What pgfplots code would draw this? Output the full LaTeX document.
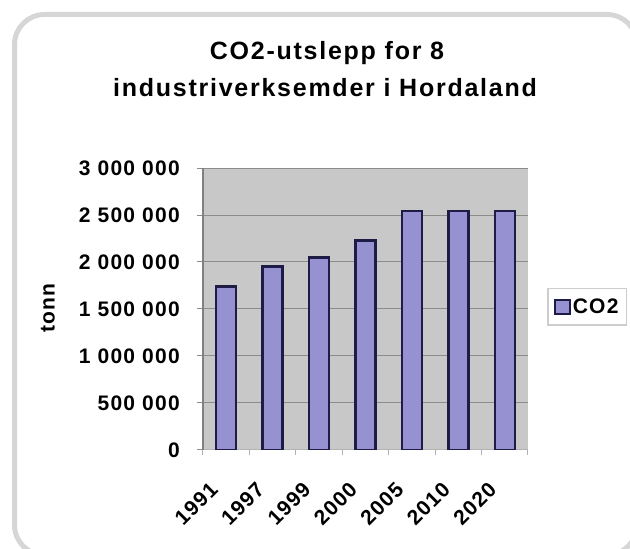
\documentclass[border=0pt]{standalone}
\usepackage{fontspec}
\setmainfont{Liberation Sans}
\newfontfamily\chartfont[LetterSpace=6]{Liberation Sans}
\newfontfamily\titlefont[LetterSpace=7]{Liberation Sans}
\usepackage{pgfplots}
\pgfplotsset{compat=1.18}

\definecolor{barfill}{RGB}{150,146,210}
\definecolor{barline}{RGB}{30,28,70}
\definecolor{plotbg}{RGB}{200,200,200}
\definecolor{gridc}{RGB}{140,140,140}
\definecolor{framec}{RGB}{214,214,214}
\definecolor{legline}{RGB}{205,205,205}

\newcommand{\tickfont}{\chartfont\bfseries\fontsize{21}{24}\selectfont}

\pgfplotstableread{
x  year  co2
0  1991  1740000
1  1997  1950000
2  1999  2050000
3  2000  2230000
4  2005  2540000
5  2010  2540000
6  2020  2540000
}\emissions

\begin{document}
\begin{tikzpicture}
  % rounded frame around the chart
  \draw[framec, line width=5pt, rounded corners=30pt]
    (14.5pt,-6pt) rectangle (637pt,534.5pt);

  % two-line title
  \node[anchor=base, font=\titlefont\bfseries\fontsize{25}{30}\selectfont]
    at (327pt,489pt) {CO2-utslepp for 8};
  \node[anchor=base, font=\titlefont\bfseries\fontsize{25}{30}\selectfont]
    at (325pt,452pt) {industriverksemder i Hordaland};

  \begin{axis}[
    at={(203pt,99pt)}, anchor=south west,
    scale only axis, width=325pt, height=282pt,
    ybar, bar width=20pt,
    xmin=-0.5, xmax=6.5, ymin=0, ymax=3000000,
    axis background/.style={fill=plotbg},
    axis lines*=left,
    y axis line style={draw=gray, line width=2pt},
    x axis line style={draw=gray!60, line width=1pt},
    ymajorgrids, grid style={gridc, line width=1pt},
    tick align=outside,
    scaled y ticks=false,
    ytick={0,500000,1000000,1500000,2000000,2500000,3000000},
    yticklabels={0,500~000,1~000~000,1~500~000,2~000~000,2~500~000,3~000~000},
    ytick style={draw=gridc, line width=1pt},
    major tick length=6pt,
    xtick={0,...,6},
    xticklabels={1991,1997,1999,2000,2005,2010,2020},
    x tick style={draw=none},
    minor xtick={-0.5,0.5,...,6.5},
    minor x tick style={draw=gray!60, line width=1pt},
    minor tick length=5pt,
    yticklabel style={font=\tickfont, anchor=east, inner sep=0pt, xshift=-17pt},
    xticklabel style={font=\tickfont, rotate=45, anchor=east, inner sep=0pt,
                      xshift=-29.5pt, yshift=-12.5pt},
    ylabel={tonn},
    ylabel style={font=\tickfont, at={(axis description cs:-0.477,0.5035)},
                  anchor=center, rotate=0},
    legend style={at={(axis description cs:1.0585,0.5745)}, anchor=north west,
                  draw=legline, line width=1.5pt, fill=white,
                  font=\tickfont, inner xsep=6pt, inner ysep=8pt},
    legend cell align=left,
  ]
    \addplot[fill=barfill, draw=barline, line width=2.5pt,
      legend image code/.code={\draw[fill=barfill, draw=barline, line width=2pt]
        (0pt,-7pt) rectangle (15pt,7pt);}]
      table[x=x, y=co2] {\emissions};
    \addlegendentry{CO2}
  \end{axis}

  \pgfresetboundingbox
  \useasboundingbox (0pt,0pt) rectangle (630pt,549pt);
\end{tikzpicture}
\end{document}
